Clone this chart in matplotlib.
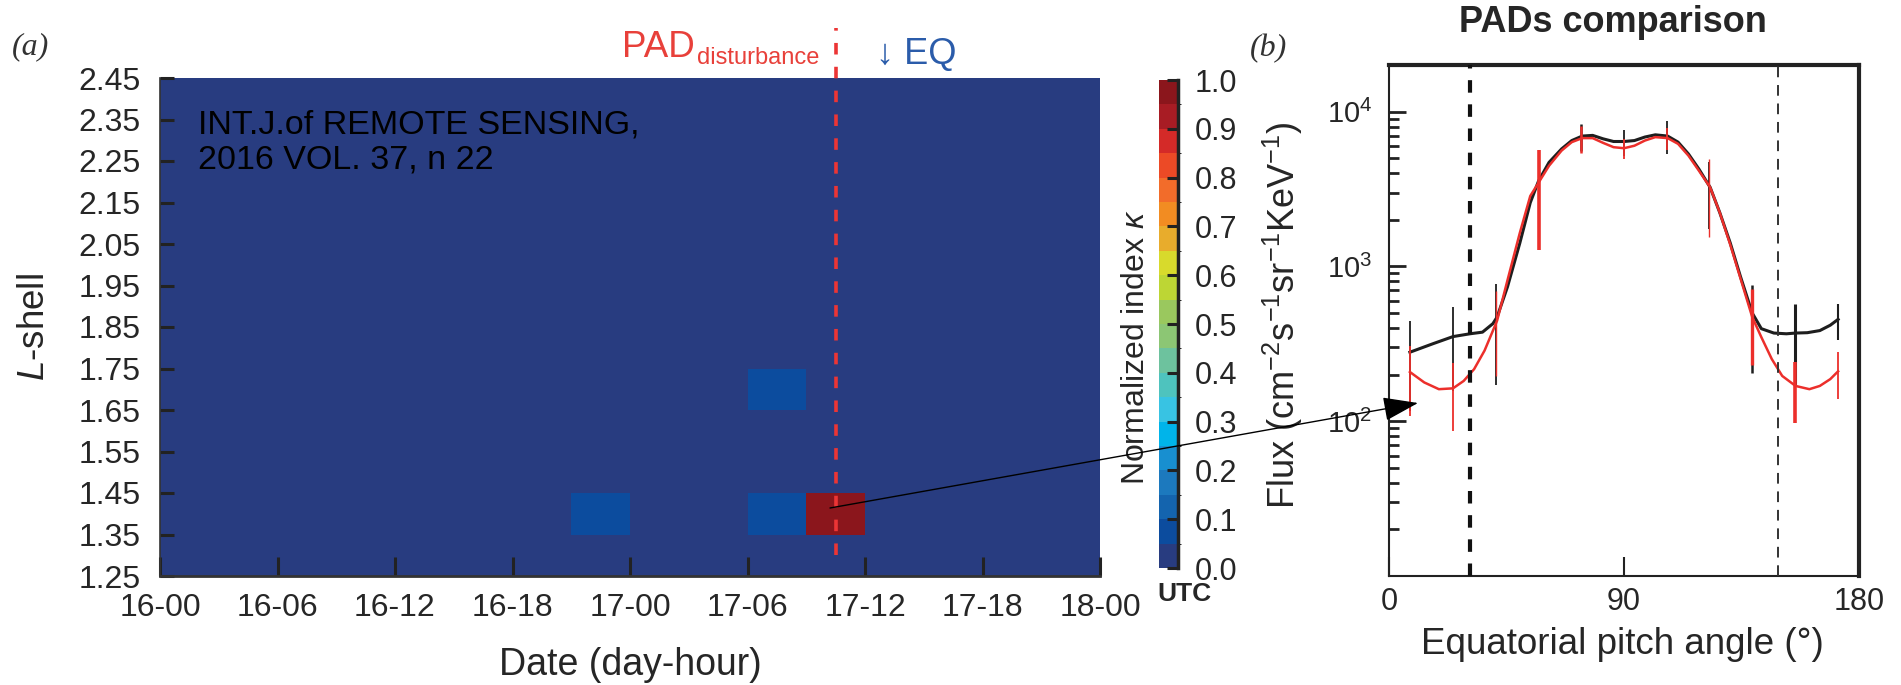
import numpy as np
import matplotlib
matplotlib.use("Agg")
import matplotlib.pyplot as plt
from matplotlib.colors import ListedColormap, BoundaryNorm
from matplotlib.patches import FancyArrowPatch

plt.rcParams['font.family'] = ['Liberation Sans', 'DejaVu Sans']
plt.rcParams['mathtext.fontset'] = 'custom'
plt.rcParams['mathtext.rm'] = 'Liberation Sans'
plt.rcParams['mathtext.it'] = 'Liberation Sans:italic'
plt.rcParams['mathtext.bf'] = 'Liberation Sans:bold'
plt.rcParams['mathtext.sf'] = 'Liberation Sans'

# ---------------- data: panel (a) ----------------
hour_edges = [0, 3, 6, 9, 12, 15, 18, 21, 24, 27, 30, 33, 36, 39, 42, 45, 48]
lshell_edges = [1.25, 1.35, 1.45, 1.55, 1.65, 1.75, 1.85, 1.95, 2.05, 2.15, 2.25, 2.35, 2.45]
background_kappa = 0.0
anomaly_hour = [21, 30, 30, 33]        # start hour of 3-h bin
anomaly_lshell = [1.35, 1.35, 1.65, 1.35]
anomaly_kappa = [0.08, 0.08, 0.08, 0.98]
x_tick_hours = [0, 6, 12, 18, 24, 30, 36, 42, 48]
x_tick_labels = ['16-00', '16-06', '16-12', '16-18', '17-00', '17-06', '17-12', '17-18', '18-00']
y_tick_values = [1.25, 1.35, 1.45, 1.55, 1.65, 1.75, 1.85, 1.95, 2.05, 2.15, 2.25, 2.35, 2.45]
eq_hour = 34.5

cbar_colors = ['#283C80', '#0C4C9E', '#1464AE', '#1C79BE', '#188FD0', '#00B4EA',
               '#38C3E3', '#4EC3BE', '#6DC29E', '#8CC674', '#9AC85E', '#BDD634',
               '#D8DA2C', '#E8AC2C', '#F28C22', '#F26C2A', '#EC4A26', '#D42A28',
               '#A81C24', '#8B161C']
cbar_ticks = [0.0, 0.1, 0.2, 0.3, 0.4, 0.5, 0.6, 0.7, 0.8, 0.9, 1.0]

# ---------------- data: panel (b) ----------------
black_angle = [8, 16.7, 24.5, 31, 35.8, 39.8, 41.4, 45.4, 50.1, 54.1, 57.3, 61.3, 66.1,
               70, 74, 78, 82, 86, 90, 94, 98, 102, 106.7, 110.7, 114.7, 118.7, 123,
               126.7, 130.7, 134.6, 139.1, 142.6, 147.4, 152.2, 155.7, 160.2, 165, 169, 172]
black_flux = [279, 316, 352, 367, 376, 427, 471, 740, 1415, 2580, 3570, 4700, 5740,
              6500, 6950, 7020, 6670, 6410, 6410, 6500, 6850, 7080, 6950, 6350, 5320,
              4250, 3240, 2220, 1415, 860, 500, 396, 371, 367, 371, 373, 385, 417, 455]
red_angle = [8, 13.5, 19.1, 24.5, 28.6, 32.6, 36.6, 41.4, 45.4, 50.1, 54.1, 57.3, 61.3,
             66.1, 70, 74, 78, 82, 86, 90, 94, 98, 102, 106.7, 110.7, 114.7, 118.7,
             123, 126.7, 130.7, 134.6, 139.1, 142.6, 146.6, 150.6, 155.7, 161, 165, 169, 172]
red_flux = [208, 178, 161, 163, 182, 217, 286, 446, 817, 1645, 2850, 3480, 4470,
            5600, 6350, 6740, 6740, 6280, 5890, 5800, 6020, 6500, 6840, 6740, 6190,
            5190, 4150, 3240, 2220, 1380, 838, 471, 349, 252, 196, 169, 161, 169, 187, 210]
pt_angle = [8.2, 24.5, 40.9, 57.3, 73.6, 90, 106.4, 122.7, 139.1, 155.5, 171.8]
black_pt_flux = [279, 352, 471, 3570, 6950, 6410, 7010, 3240, 480, 370, 455]
black_pt_err = [162, 195, 300, 1800, 1400, 1230, 1650, 1500, 276, 200, 118]
red_pt_flux = [208, 163, 446, 3480, 6740, 5800, 6740, 3240, 471, 169, 210]
red_pt_err = [100, 76, 250, 2200, 1300, 830, 1100, 1700, 240, 72, 70]
loss_cone = [31, 149]

# ---------------- styles ----------------
black_err_lw = [1.3, 1.3, 1.3, 1.3, 1.8, 1.3, 1.3, 1.3, 1.8, 2.2, 1.5]
red_err_lw = [1.3, 1.3, 1.0, 2.6, 1.8, 1.3, 1.3, 1.0, 2.4, 2.6, 1.3]
TXT = '#262626'

W, H = 1901, 685
fig = plt.figure(figsize=(W / 100, H / 100), dpi=100)

def fx(px):
    return px / W

def fy(py):
    return 1 - py / H

# ---------------- panel (a) ----------------
ax = fig.add_axes([fx(160), fy(576), (1100 - 160) / W, (576 - 78) / H])
cmap = ListedColormap(cbar_colors)
bounds = np.linspace(0, 1, len(cbar_colors) + 1)
norm = BoundaryNorm(bounds, cmap.N)

kappa = np.full((len(lshell_edges) - 1, len(hour_edges) - 1), background_kappa)
for h, l, k in zip(anomaly_hour, anomaly_lshell, anomaly_kappa):
    i = int(round((l - lshell_edges[0]) / 0.1))
    j = hour_edges.index(h)
    kappa[i, j] = k
mesh = ax.pcolormesh(hour_edges, lshell_edges, kappa, cmap=cmap, norm=norm)
ax.set_xlim(hour_edges[0], hour_edges[-1])
ax.set_ylim(lshell_edges[0], lshell_edges[-1])
ax.set_xticks(x_tick_hours)
ax.set_xticklabels(x_tick_labels)
ax.set_yticks(y_tick_values)
ax.set_yticklabels(['%.2f' % v for v in y_tick_values])
ax.tick_params(axis='x', direction='in', length=14, width=2.2, color='#222222',
               labelsize=23, pad=12, labelcolor=TXT)
ax.tick_params(axis='y', direction='in', length=10, width=2.2, color='#222222',
               labelsize=23, pad=14, labelcolor=TXT)
for s in ['top', 'right']:
    ax.spines[s].set_visible(False)
ax.spines['left'].set_color('#333333')
ax.spines['left'].set_linewidth(1.2)
ax.spines['bottom'].set_color('#333333')
ax.spines['bottom'].set_linewidth(2.0)

ax.axvline(eq_hour, ymin=0.042, ymax=1.10, clip_on=False, color='#EC3535',
           lw=2.6, ls=(0, (3.2, 3.4)), zorder=5)

ax.text(fx(198), fy(110), 'INT.J.of REMOTE SENSING,\n2016 VOL. 37, n 22',
        transform=fig.transFigure, fontsize=24.5, color='black', va='top',
        ha='left', linespacing=1.15)

fig.text(fx(630), fy(675), 'Date (day-hour)', fontsize=27, color=TXT,
         ha='center', va='baseline')
fig.text(fx(34), fy(327), r'$\mathit{L}$-shell', fontsize=26.5, color=TXT,
         ha='center', va='center', rotation=90)
fig.text(fx(30), fy(47), '(a)', fontsize=23, color='#333333', family='Liberation Serif',
         style='italic', ha='center', va='center')
fig.text(fx(695), fy(57), 'PAD', fontsize=26.5, color='#E8403A',
         ha='right', va='baseline')
fig.text(fx(697), fy(64), 'disturbance', fontsize=17, color='#E8403A',
         ha='left', va='baseline')
fig.text(fx(876), fy(64), '\u2193 EQ', fontsize=26, color='#2B5CAA',
         ha='left', va='baseline')

# ---------------- colorbar ----------------
cax = fig.add_axes([fx(1159), fy(568), 19 / W, (568 - 80) / H])
cb = fig.colorbar(mesh, cax=cax, ticks=cbar_ticks)
cb.outline.set_visible(False)
cb.ax.set_yticklabels(['%.1f' % t for t in cbar_ticks])
cax.tick_params(direction='in', length=8, width=2.2, color='#222222', labelsize=22,
                pad=12, labelcolor=TXT)
cax.plot([1, 1], [0, 1], transform=cax.transAxes, color='#222222', lw=2.5,
         clip_on=False)
fig.text(fx(1136), fy(347), r'Normalized index $\kappa$', fontsize=23, color=TXT,
         rotation=90, ha='center', va='center')
fig.text(fx(1184), fy(594), 'UTC', fontsize=19, fontweight='bold', color=TXT,
         ha='center', va='center')

# ---------------- panel (b) ----------------
bx = fig.add_axes([fx(1389), fy(576), (1859 - 1389) / W, (576 - 65) / H])
bx.set_yscale('log')
bx.set_xlim(0, 180)
bx.set_ylim(10, 2.0e4)

bx.plot(black_angle, black_flux, color='#1E1E1E', lw=2.2, zorder=3)
for a, f, e, lw in zip(pt_angle, black_pt_flux, black_pt_err, black_err_lw):
    bx.vlines(a, f - e, f + e, color='#1E1E1E', lw=lw, zorder=3)
bx.plot(red_angle, red_flux, color='#EC2F2B', lw=1.8, zorder=4)
for a, f, e, lw in zip(pt_angle, red_pt_flux, red_pt_err, red_err_lw):
    bx.vlines(a, f - e, f + e, color='#EC2F2B', lw=lw, zorder=4)

bx.axvline(loss_cone[0], color='#111111', lw=3.0, ls=(0, (3.0, 2.8)), zorder=5)
bx.axvline(loss_cone[1], color='#333333', lw=1.4, ls=(0, (5.5, 4.0)), zorder=5)

bx.set_xticks([0, 90, 180])
bx.set_yticks([1e2, 1e3, 1e4])
bx.tick_params(axis='x', which='major', direction='in', length=14, width=1.5,
               labelsize=22, pad=8, labelcolor=TXT, color='#222222', top=False)
bx.tick_params(axis='y', which='major', direction='in', length=12, width=2.0,
               labelsize=21, pad=12, labelcolor=TXT, color='#222222', right=False)
bx.tick_params(axis='y', which='minor', direction='in', length=7, width=2.0,
               color='#222222', right=False)
bx.tick_params(axis='x', which='minor', bottom=False, top=False)
bx.spines['top'].set_linewidth(3.0)
bx.spines['right'].set_linewidth(3.0)
bx.spines['left'].set_linewidth(1.5)
bx.spines['bottom'].set_linewidth(1.5)
for s in bx.spines.values():
    s.set_color('#222222')

fig.text(fx(1622), fy(654), 'Equatorial pitch angle (\u00b0)', fontsize=26.5,
         color=TXT, ha='center', va='baseline')
fig.text(fx(1283), fy(315), r'Flux (cm$^{-2}$s$^{-1}$sr$^{-1}$KeV$^{-1}$)',
         fontsize=26, color=TXT, rotation=90, ha='center', va='center')
fig.text(fx(1613), fy(23), 'PADs comparison', fontsize=26, fontweight='bold',
         color=TXT, ha='center', va='center')
fig.text(fx(1268), fy(49), '(b)', fontsize=23, color='#333333', family='Liberation Serif',
         style='italic', ha='center', va='center')

# ---------------- connecting arrow ----------------
arrow = FancyArrowPatch((fx(830), fy(508)), (fx(1418), fy(403)),
                        transform=fig.transFigure,
                        arrowstyle='-|>,head_length=22,head_width=7.5',
                        mutation_scale=1, lw=1.0, color='black',
                        shrinkA=0, shrinkB=0, zorder=10)
fig.add_artist(arrow)

fig.savefig('out.png', dpi=100)
